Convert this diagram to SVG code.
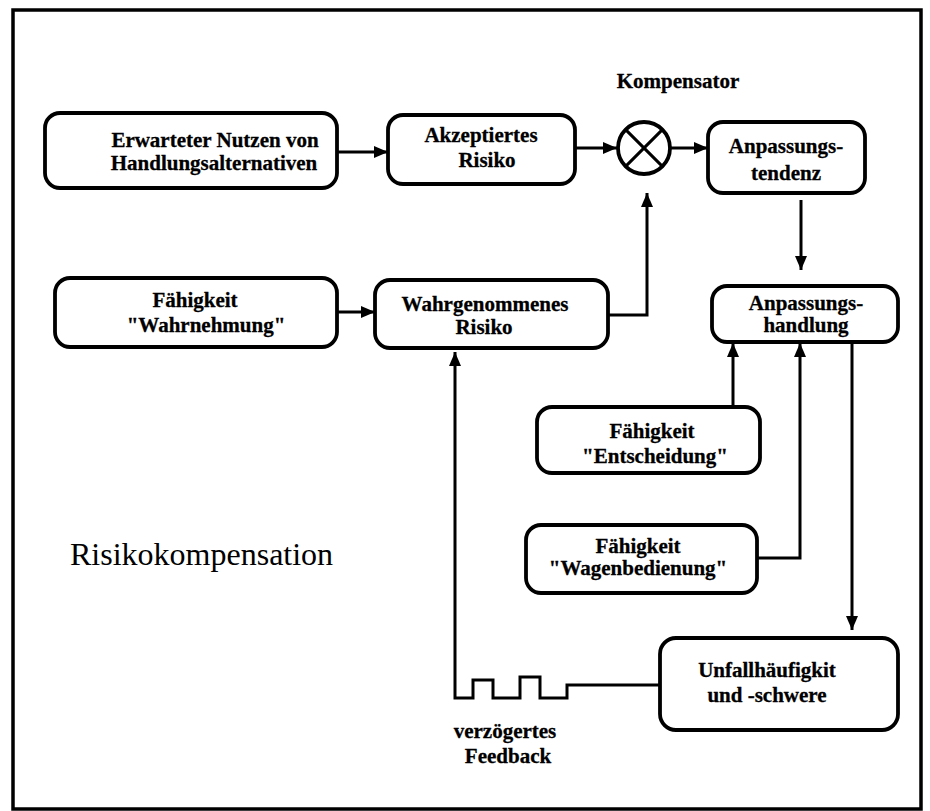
<svg xmlns="http://www.w3.org/2000/svg" width="930" height="811" viewBox="0 0 930 811">
<style>
.box{fill:none;stroke:#000;stroke-width:3.8}
.ln{fill:none;stroke:#000;stroke-width:3}
.t{font-family:"Liberation Serif","Times New Roman",serif;font-weight:bold;font-size:21px;text-anchor:middle;fill:#000;stroke:#000;stroke-width:0.3}
.big{font-family:"Liberation Serif","Times New Roman",serif;font-size:32px;fill:#000}
</style>
<defs>
<marker id="ah" viewBox="0 0 14 12" refX="14" refY="6" markerWidth="14" markerHeight="12" markerUnits="userSpaceOnUse" orient="auto">
<path d="M0,0 L14,6 L0,12 Z" fill="#000"/>
</marker>
</defs>
<rect x="13" y="10" width="908" height="799" fill="#fff" stroke="#000" stroke-width="3.5"/>
<g id="kompensator">
<circle cx="644" cy="148" r="26" class="box"/>
<line x1="625.6" y1="129.6" x2="662.4" y2="166.4" class="ln" stroke-width="3.8"/>
<line x1="662.4" y1="129.6" x2="625.6" y2="166.4" class="ln" stroke-width="3.8"/>
<text x="678" y="88" class="t">Kompensator</text>
</g>
<g id="nutzen">
<rect x="45" y="113" width="292" height="75" rx="15" class="box"/>
<text x="215" y="147" class="t">Erwarteter Nutzen von</text>
<text x="214" y="170" class="t">Handlungsalternativen</text>
</g>
<g id="akzeptiert">
<rect x="388" y="115" width="187" height="69" rx="15" class="box"/>
<text x="481" y="142" class="t">Akzeptiertes</text>
<text x="487" y="167" class="t">Risiko</text>
</g>
<g id="tendenz">
<rect x="708" y="122" width="157" height="71" rx="15" class="box"/>
<text x="786" y="153" class="t">Anpassungs-</text>
<text x="786" y="180" class="t">tendenz</text>
</g>
<g id="wahrnehmung">
<rect x="55" y="278" width="282" height="69" rx="15" class="box"/>
<text x="195" y="307" class="t">Fähigkeit</text>
<text x="206" y="332" class="t">"Wahrnehmung"</text>
</g>
<g id="wahrgenommen">
<rect x="375" y="280" width="233" height="68" rx="15" class="box"/>
<text x="485" y="311" class="t">Wahrgenommenes</text>
<text x="484" y="334" class="t">Risiko</text>
</g>
<g id="handlung">
<rect x="712" y="286" width="186" height="56" rx="15" class="box"/>
<text x="806" y="310" class="t">Anpassungs-</text>
<text x="806" y="332" class="t">handlung</text>
</g>
<g id="entscheidung">
<rect x="537" y="407" width="223" height="66" rx="15" class="box"/>
<text x="652" y="438" class="t">Fähigkeit</text>
<text x="655" y="463" class="t">"Entscheidung"</text>
</g>
<g id="wagenbedienung">
<rect x="526" y="525" width="231" height="68" rx="15" class="box"/>
<text x="638" y="553" class="t">Fähigkeit</text>
<text x="638" y="575" class="t">"Wagenbedienung"</text>
</g>
<g id="unfall">
<rect x="660" y="638" width="238" height="92" rx="16" class="box"/>
<text x="767" y="677" class="t">Unfallhäufigkit</text>
<text x="767" y="702" class="t">und -schwere</text>
</g>
<g id="labels">
<text x="505" y="738" class="t">verzögertes</text>
<text x="508" y="763" class="t">Feedback</text>
<text x="70" y="565" class="big">Risikokompensation</text>
</g>
<g id="connectors">
<line x1="337" y1="152" x2="388" y2="152" class="ln" marker-end="url(#ah)"/>
<line x1="575" y1="148" x2="617" y2="148" class="ln" marker-end="url(#ah)"/>
<line x1="670" y1="148" x2="708" y2="148" class="ln" marker-end="url(#ah)"/>
<line x1="337" y1="312" x2="375" y2="312" class="ln" marker-end="url(#ah)"/>
<polyline points="608,315 647,315 647,193" class="ln" marker-end="url(#ah)"/>
<line x1="801" y1="200" x2="801" y2="270" class="ln" marker-end="url(#ah)"/>
<line x1="733" y1="407" x2="733" y2="343" class="ln" marker-end="url(#ah)"/>
<polyline points="757,558 800,558 800,343" class="ln" marker-end="url(#ah)"/>
<line x1="852" y1="342" x2="852" y2="630" class="ln" marker-end="url(#ah)"/>
<polyline points="660,685 567,685 567,698 540,698 540,677 520,677 520,698 493,698 493,680 473,680 473,698 455,698 455,352" class="ln" marker-end="url(#ah)"/>
</g>
</svg>
